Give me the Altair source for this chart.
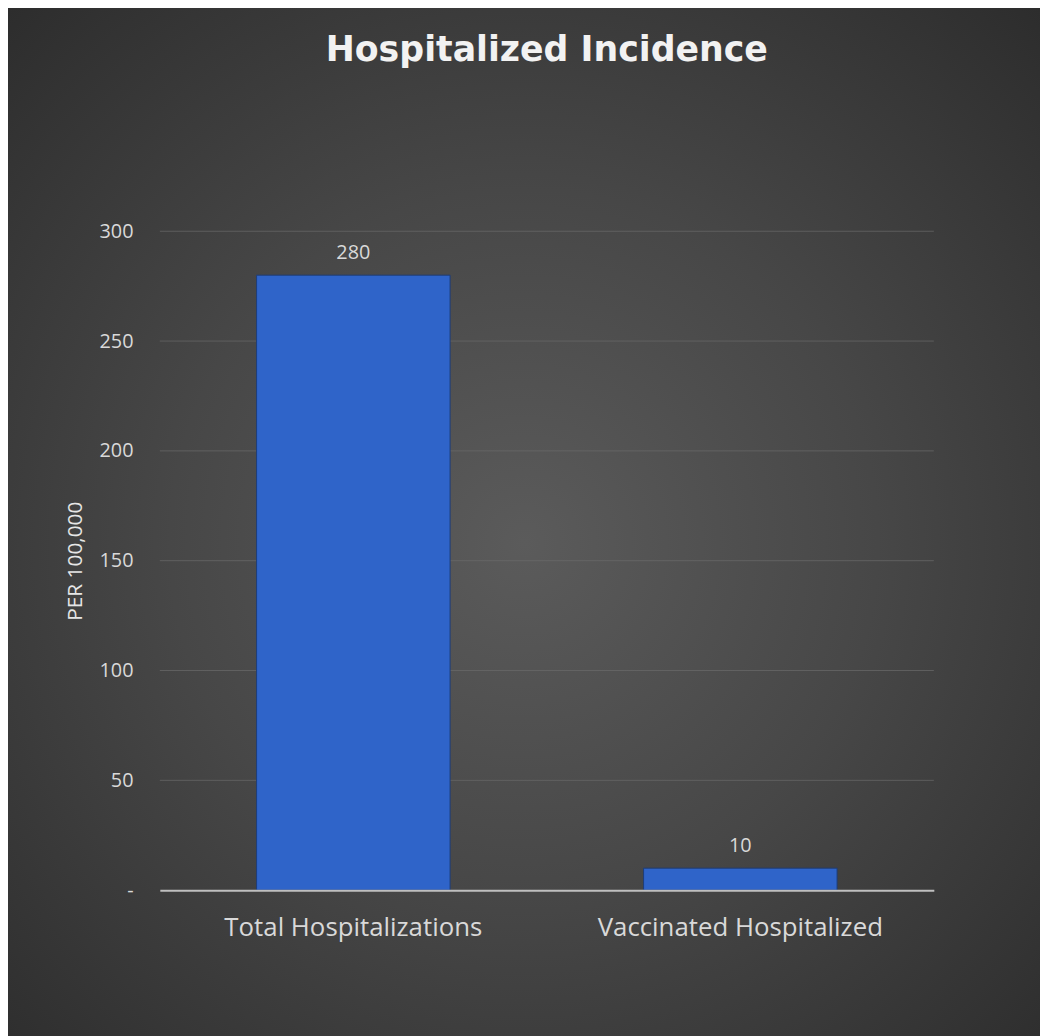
import altair as alt
import pandas as pd

categories = ["Total Hospitalizations", "Vaccinated Hospitalized"]
values = [280, 10]
y_ticks = [0, 50, 100, 150, 200, 250, 300]
grid_ticks = [50, 100, 150, 200, 250, 300]

df = pd.DataFrame({"category": categories, "value": values})
grid_df = pd.DataFrame({"value": grid_ticks})
bg_df = pd.DataFrame({"k": [0]})

W, H = 780, 664
PL, PT, PR, PB = 153, 221, 107, 143

bg = alt.Chart(bg_df).mark_rect(
    color=alt.RadialGradient(
        gradient="radial",
        stops=[
            alt.GradientStop(color="#5b5b5b", offset=0),
            alt.GradientStop(color="#474747", offset=0.45),
            alt.GradientStop(color="#2a2a2a", offset=1),
        ],
        x1=0.5, y1=0.52, x2=0.5, y2=0.52, r1=0, r2=0.75,
    )
).encode(
    x=alt.value(-PL - 8), x2=alt.value(W + PR + 8),
    y=alt.value(-PT - 8), y2=alt.value(H + PB + 8),
)

y_scale = alt.Scale(domain=[0, 300])
y_axis = alt.Axis(values=y_ticks, labelExpr="datum.value == 0 ? '-' : datum.label",
                  labelFontSize=20, labelColor="#d9d9d9", labelFont="Open Sans",
                  labelPadding=27, ticks=False, domain=False, grid=False,
                  titleFontSize=21, titleColor="#e6e6e6", titleFont="Open Sans",
                  titleFontWeight="normal", titlePadding=14, zindex=1)

grid = alt.Chart(grid_df).mark_rule(color="#6a6a6a", strokeWidth=1, opacity=0.7).encode(
    y=alt.Y("value:Q", scale=y_scale, axis=y_axis, title="PER 100,000"),
    x=alt.value(0), x2=alt.value(W),
)

x_enc = alt.X(
    "category:N", sort=categories, title=None,
    scale=alt.Scale(paddingInner=0.5, paddingOuter=0.25),
    axis=alt.Axis(labelAngle=0, labelFontSize=26, labelColor="#d9d9d9",
                  labelFont="Open Sans", labelPadding=25, labelLimit=500, ticks=False,
                  domainColor="#bfbfbf", domainWidth=2, zindex=1),
)
y_enc = alt.Y("value:Q", title="PER 100,000", scale=y_scale, axis=y_axis)

bars = alt.Chart(df).mark_bar(
    color="#2f64c9", stroke="#1d3c78", strokeWidth=1
).encode(x=x_enc, y=y_enc)

labels = alt.Chart(df).mark_text(
    baseline="alphabetic", dy=-16, fontSize=20, color="#d9d9d9", font="Open Sans"
).encode(x=alt.X("category:N", sort=categories), y="value:Q", text="value:Q")

chart = alt.layer(bg, grid, bars, labels).properties(
    width=W, height=H,
    autosize=alt.AutoSizeParams(type="none"),
    padding={"left": PL, "top": PT, "right": PR, "bottom": PB},
    background="#2b2b2b",
    title=alt.TitleParams(
        "Hospitalized Incidence", fontSize=35, fontWeight="bold", color="#f2f2f2",
        font="DejaVu Sans", anchor="middle", frame="group", dx=0, offset=-64,
    ),
).configure_view(stroke=None)

chart.save("out.html", embed_options={"renderer": "svg", "actions": False})
